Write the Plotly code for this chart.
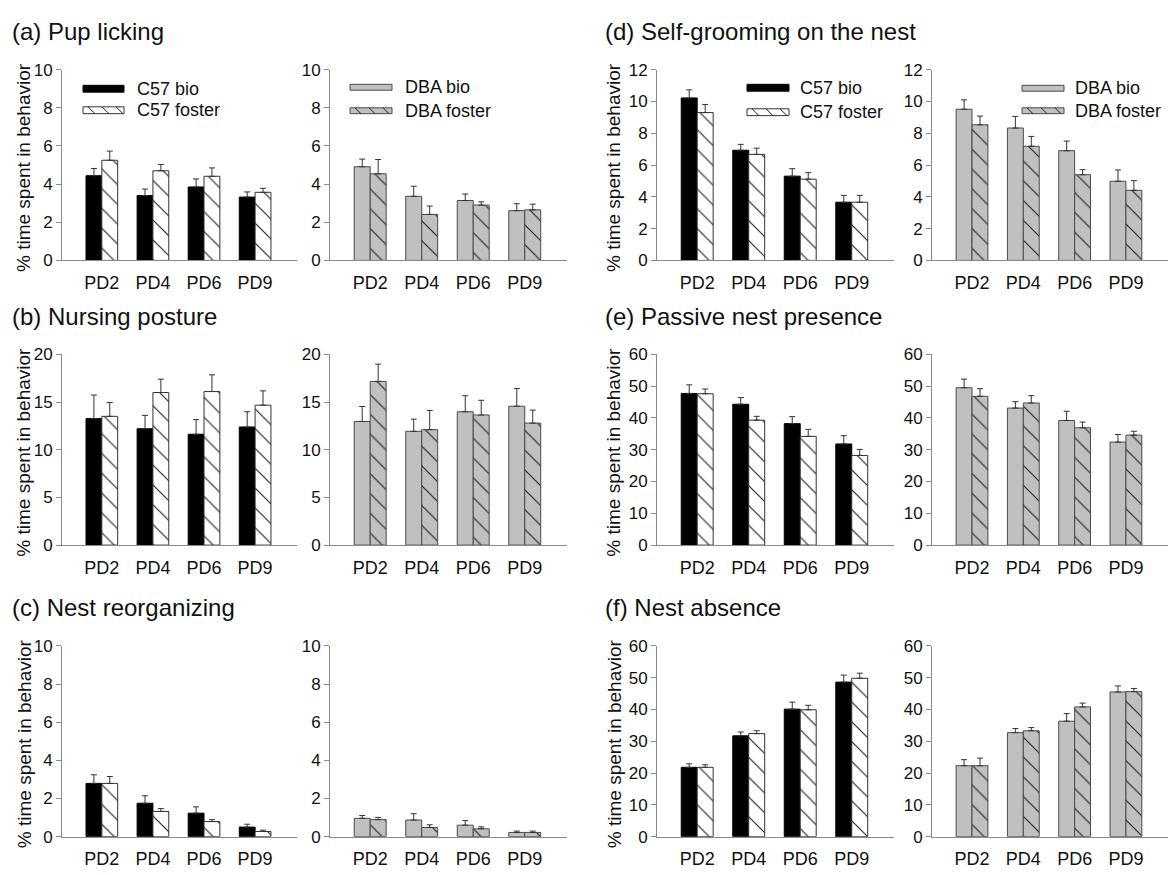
import plotly.graph_objects as go

W, H = 1170, 875
FONT = "Arial, 'Liberation Sans', sans-serif"

days = ["PD2", "PD4", "PD6", "PD9"]

# (a) Pup licking
lick_c57_bio = [4.44, 3.40, 3.85, 3.32]
lick_c57_bio_se = [0.38, 0.34, 0.42, 0.27]
lick_c57_fos = [5.25, 4.70, 4.41, 3.57]
lick_c57_fos_se = [0.48, 0.33, 0.44, 0.21]
lick_dba_bio = [4.91, 3.36, 3.14, 2.61]
lick_dba_bio_se = [0.40, 0.53, 0.34, 0.36]
lick_dba_fos = [4.54, 2.41, 2.90, 2.65]
lick_dba_fos_se = [0.75, 0.44, 0.17, 0.30]

# (b) Nursing posture
nurse_c57_bio = [13.26, 12.20, 11.62, 12.38]
nurse_c57_bio_se = [2.47, 1.40, 1.54, 1.60]
nurse_c57_fos = [13.50, 16.00, 16.10, 14.67]
nurse_c57_fos_se = [1.44, 1.40, 1.75, 1.50]
nurse_dba_bio = [12.96, 11.93, 13.98, 14.56]
nurse_dba_bio_se = [1.57, 1.27, 1.68, 1.85]
nurse_dba_fos = [17.16, 12.10, 13.64, 12.79]
nurse_dba_fos_se = [1.81, 2.02, 1.54, 1.36]

# (c) Nest reorganizing
reorg_c57_bio = [2.79, 1.75, 1.23, 0.50]
reorg_c57_bio_se = [0.45, 0.39, 0.33, 0.15]
reorg_c57_fos = [2.79, 1.32, 0.79, 0.27]
reorg_c57_fos_se = [0.36, 0.15, 0.10, 0.07]
reorg_dba_bio = [0.96, 0.87, 0.60, 0.22]
reorg_dba_bio_se = [0.15, 0.33, 0.24, 0.07]
reorg_dba_fos = [0.89, 0.48, 0.41, 0.22]
reorg_dba_fos_se = [0.12, 0.14, 0.10, 0.07]

# (d) Self-grooming on the nest
groom_c57_bio = [10.22, 6.93, 5.30, 3.66]
groom_c57_bio_se = [0.51, 0.37, 0.47, 0.43]
groom_c57_fos = [9.30, 6.67, 5.11, 3.66]
groom_c57_fos_se = [0.51, 0.39, 0.41, 0.43]
groom_dba_bio = [9.51, 8.33, 6.90, 4.98]
groom_dba_bio_se = [0.59, 0.73, 0.61, 0.71]
groom_dba_fos = [8.53, 7.18, 5.39, 4.41]
groom_dba_fos_se = [0.55, 0.62, 0.32, 0.61]

# (e) Passive nest presence
passive_c57_bio = [47.7, 44.3, 38.2, 31.8]
passive_c57_bio_se = [2.7, 2.1, 2.2, 2.6]
passive_c57_fos = [47.6, 39.3, 34.2, 28.2]
passive_c57_fos_se = [1.5, 1.2, 2.2, 1.9]
passive_dba_bio = [49.5, 43.1, 39.2, 32.4]
passive_dba_bio_se = [2.7, 2.0, 2.9, 2.4]
passive_dba_fos = [46.8, 44.7, 36.9, 34.6]
passive_dba_fos_se = [2.4, 2.3, 1.8, 1.2]

# (f) Nest absence
absence_c57_bio = [21.8, 31.7, 40.1, 48.6]
absence_c57_bio_se = [1.1, 1.2, 2.2, 2.2]
absence_c57_fos = [21.8, 32.4, 39.9, 49.8]
absence_c57_fos_se = [0.8, 0.9, 1.4, 1.6]
absence_dba_bio = [22.3, 32.7, 36.3, 45.5]
absence_dba_bio_se = [1.9, 1.3, 2.4, 1.9]
absence_dba_fos = [22.3, 33.3, 40.8, 45.6]
absence_dba_fos_se = [2.4, 1.0, 1.2, 1.0]

# styling
BLACK = "#000000"
GRAY = "#c0c0c0"
EDGE_GRAY = "#4a4a4a"
AXIS_COL = "#8a8a8a"
TEXT_COL = "#111111"

STYLES = {
    "c57_bio": dict(fill=BLACK, edge=BLACK, hatch=False, name="C57 bio"),
    "c57_fos": dict(fill="#ffffff", edge="#333333", hatch=True, name="C57 foster"),
    "dba_bio": dict(fill=GRAY, edge=EDGE_GRAY, hatch=False, name="DBA bio"),
    "dba_fos": dict(fill=GRAY, edge=EDGE_GRAY, hatch=True, name="DBA foster"),
}

# pixel frames of the plotting areas
COL_X = [(62, 297), (330, 567), (657, 894), (932, 1168)]
ROW_Y = [(62, 257), (353, 548), (651, 846)]

# panel: (title, row, column pair, ymax, dtick, c57 series, dba series)
panels = [
    ("(a) Pup licking", 0, 0, 10, 2,
     (lick_c57_bio, lick_c57_bio_se, lick_c57_fos, lick_c57_fos_se),
     (lick_dba_bio, lick_dba_bio_se, lick_dba_fos, lick_dba_fos_se)),
    ("(b) Nursing posture", 1, 0, 20, 5,
     (nurse_c57_bio, nurse_c57_bio_se, nurse_c57_fos, nurse_c57_fos_se),
     (nurse_dba_bio, nurse_dba_bio_se, nurse_dba_fos, nurse_dba_fos_se)),
    ("(c) Nest reorganizing", 2, 0, 10, 2,
     (reorg_c57_bio, reorg_c57_bio_se, reorg_c57_fos, reorg_c57_fos_se),
     (reorg_dba_bio, reorg_dba_bio_se, reorg_dba_fos, reorg_dba_fos_se)),
    ("(d) Self-grooming on the nest", 0, 1, 12, 2,
     (groom_c57_bio, groom_c57_bio_se, groom_c57_fos, groom_c57_fos_se),
     (groom_dba_bio, groom_dba_bio_se, groom_dba_fos, groom_dba_fos_se)),
    ("(e) Passive nest presence", 1, 1, 60, 10,
     (passive_c57_bio, passive_c57_bio_se, passive_c57_fos, passive_c57_fos_se),
     (passive_dba_bio, passive_dba_bio_se, passive_dba_fos, passive_dba_fos_se)),
    ("(f) Nest absence", 2, 1, 60, 10,
     (absence_c57_bio, absence_c57_bio_se, absence_c57_fos, absence_c57_fos_se),
     (absence_dba_bio, absence_dba_bio_se, absence_dba_fos, absence_dba_fos_se)),
]


def px(x):
    return x / W


def py(y):
    return 1 - y / H


fig = go.Figure()
layout = dict(
    width=W, height=H,
    margin=dict(l=0, r=0, t=0, b=0),
    paper_bgcolor="white", plot_bgcolor="white",
    showlegend=False,
    barmode="group", bargap=0.38, bargroupgap=0.0,
    font=dict(family=FONT, color=TEXT_COL),
)
annotations = []
shapes = []


def bar_trace(vals, errs, key, xa, ya):
    st = STYLES[key]
    marker = dict(color=st["fill"], line=dict(color=st["edge"], width=1))
    if st["hatch"]:
        marker["pattern"] = dict(shape="\\", size=14, solidity=0.08,
                                 fgcolor="#222222", bgcolor=st["fill"],
                                 fillmode="replace")
    return go.Bar(
        x=days, y=vals, name=st["name"], marker=marker,
        error_y=dict(type="data", array=errs, arrayminus=[0] * len(errs),
                     symmetric=False, color="#333333", thickness=1, width=3),
        xaxis=xa, yaxis=ya, hoverinfo="x+y",
    )


def legend_entry(key, x0, x1, y0, y1, tx):
    st = STYLES[key]
    shapes.append(dict(type="rect", xref="paper", yref="paper",
                       x0=px(x0), x1=px(x1), y0=py(y1), y1=py(y0),
                       fillcolor=st["fill"], line=dict(color=st["edge"], width=1)))
    if st["hatch"]:
        h = y1 - y0
        x = x0 + 5
        while x + h <= x1 - 1:
            shapes.append(dict(type="line", xref="paper", yref="paper",
                               x0=px(x), y0=py(y0), x1=px(x + h), y1=py(y1),
                               line=dict(color="#222222", width=1)))
            x += 14
    annotations.append(dict(text=st["name"], xref="paper", yref="paper",
                            x=px(tx), y=py((y0 + y1) / 2), xanchor="left",
                            yanchor="middle", showarrow=False,
                            font=dict(size=18, family=FONT, color=TEXT_COL)))


axis_n = 0
for title, row, colpair, ymax, dtick, c57, dba in panels:
    ry0, ry1 = ROW_Y[row]
    for side, (series, keys) in enumerate([(c57, ("c57_bio", "c57_fos")),
                                           (dba, ("dba_bio", "dba_fos"))]):
        axis_n += 1
        cx0, cx1 = COL_X[colpair * 2 + side]
        xa = "x" if axis_n == 1 else f"x{axis_n}"
        ya = "y" if axis_n == 1 else f"y{axis_n}"
        xname = "xaxis" if axis_n == 1 else f"xaxis{axis_n}"
        yname = "yaxis" if axis_n == 1 else f"yaxis{axis_n}"
        layout[xname] = dict(
            domain=[px(cx0), px(cx1)], anchor=ya, type="category",
            range=[-0.78, 3.82], showline=True, linecolor=AXIS_COL, linewidth=1,
            ticks="outside", ticklen=6, tickcolor="rgba(0,0,0,0)",
            showgrid=False, zeroline=False,
            tickfont=dict(size=18, family=FONT, color=TEXT_COL),
        )
        layout[yname] = dict(
            domain=[py(ry1), py(ry0)], anchor=xa, range=[0, ymax],
            tick0=0, dtick=dtick, showline=True, linecolor=AXIS_COL, linewidth=1,
            ticks="outside", ticklen=5, tickcolor=AXIS_COL, tickwidth=1,
            showgrid=False, zeroline=False,
            tickfont=dict(size=17, family=FONT, color=TEXT_COL),
        )
        vb, eb, vf, ef = series
        fig.add_trace(bar_trace(vb, eb, keys[0], xa, ya))
        fig.add_trace(bar_trace(vf, ef, keys[1], xa, ya))

    # panel heading
    tx = 10 if colpair == 0 else 603
    annotations.append(dict(text=title, xref="paper", yref="paper",
                            x=px(tx), y=py(ry0 - 39), xanchor="left",
                            yanchor="middle", showarrow=False,
                            font=dict(size=24, family=FONT, color=TEXT_COL)))
    # y-axis title
    yx = 24 if colpair == 0 else 614
    annotations.append(dict(text="% time spent in behavior", xref="paper",
                            yref="paper", x=px(yx), y=py((ry0 + ry1) / 2 + 3),
                            xanchor="center", yanchor="middle", textangle=-90,
                            showarrow=False,
                            font=dict(size=19, family=FONT, color=TEXT_COL)))

# legends
legend_entry("c57_bio", 83, 124, 78, 85, 135)
legend_entry("c57_fos", 83, 124, 100, 107, 135)
legend_entry("dba_bio", 350, 392, 77, 83, 403)
legend_entry("dba_fos", 350, 392, 101, 107, 403)
legend_entry("c57_bio", 747, 789, 77, 84, 798)
legend_entry("c57_fos", 747, 789, 102, 109, 798)
legend_entry("dba_bio", 1022, 1064, 78, 84, 1073)
legend_entry("dba_fos", 1022, 1064, 101, 107, 1073)

layout["annotations"] = annotations
layout["shapes"] = shapes
fig.update_layout(**layout)
fig.write_html("out.html")
